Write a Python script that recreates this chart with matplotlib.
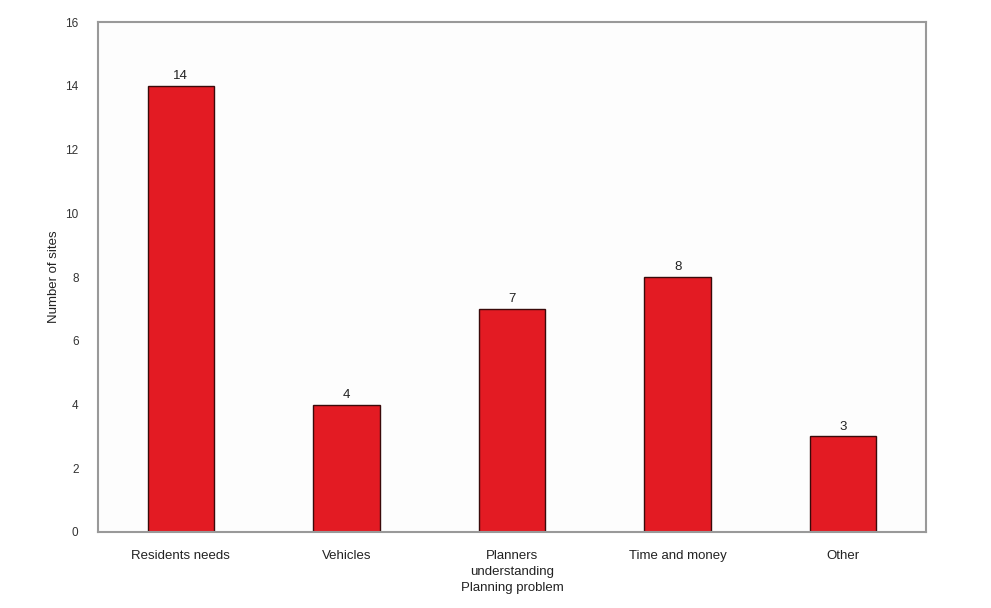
import matplotlib
matplotlib.use("Agg")
import matplotlib.pyplot as plt
import numpy as np

plt.rcParams["font.family"] = ["Liberation Sans", "DejaVu Sans"]

categories = ["Residents needs", "Vehicles", "Planners\nunderstanding", "Time and money", "Other"]
counts = [14, 4, 7, 8, 3]
y_ticks = [0, 2, 4, 6, 8, 10, 12, 14, 16]


def main() -> None:
    fig = plt.figure(figsize=(9.91, 6.08), dpi=100)
    ax = fig.add_axes([0.0989, 0.125, 0.8355, 0.8388])
    ax.set_facecolor("#fdfdfd")

    x = np.arange(len(categories))
    bars = ax.bar(x, counts, width=0.4, color="#e31b23", edgecolor="#3a0a0a", linewidth=1.0)
    for rect, val in zip(bars, counts):
        ax.text(rect.get_x() + rect.get_width() / 2, rect.get_height() + 0.12, str(val),
                ha="center", va="bottom", fontsize=9.5, color="#222222")

    ax.set_xlim(-0.5, len(categories) - 0.5)
    ax.set_ylim(0, 16)
    ax.set_yticks(y_ticks)
    ax.set_yticklabels([str(t) for t in y_ticks], fontsize=8.5, color="#333333")
    ax.set_xticks(x)
    ax.set_xticklabels(categories, fontsize=9.5, color="#222222", linespacing=1.45)
    ax.tick_params(axis="x", length=0, pad=13)
    ax.tick_params(axis="y", length=0, pad=14)

    for s in ax.spines.values():
        s.set_color("#999999")
        s.set_linewidth(1.5)

    ax.set_xlabel("Planning problem", fontsize=9.5, color="#222222", labelpad=3)
    ax.set_ylabel("Number of sites", fontsize=9.5, color="#222222", labelpad=4)

    fig.savefig("out.png", dpi=100)
    plt.close(fig)


if __name__ == "__main__":
    main()
